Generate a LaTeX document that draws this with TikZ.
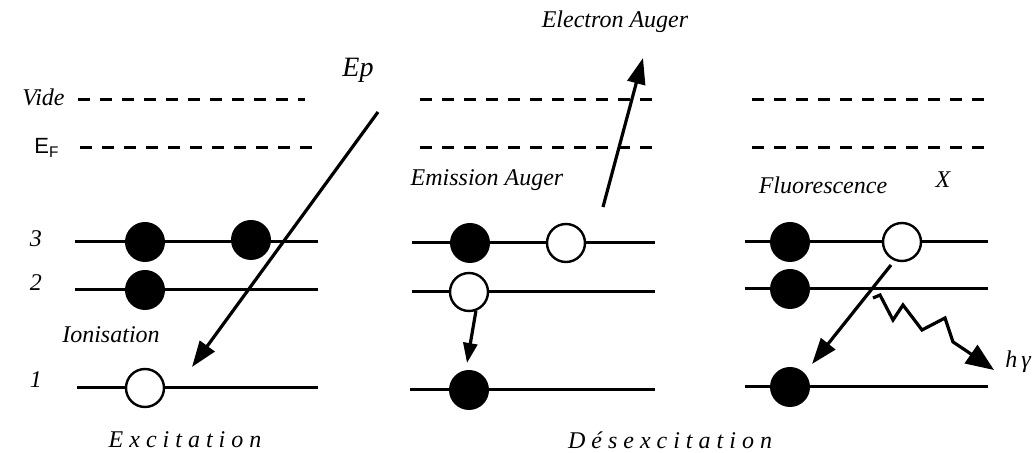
\documentclass[tikz,border=0pt]{standalone}
\usepackage{fontspec}
\setmainfont{Liberation Serif}
\newfontfamily\spacedfont[LetterSpace=25]{Liberation Serif}
\newfontfamily\efsans{Liberation Sans}
\usetikzlibrary{arrows.meta}
\tikzset{
  x=0.5pt,y=-0.5pt,
  level/.style={line width=1.5pt},
  vac/.style={line width=1.5pt,dash pattern=on 6pt off 5pt},
  full/.style={circle,fill=black,draw=black,line width=1pt,minimum size=19pt,inner sep=0pt},
  hole/.style={circle,fill=white,draw=black,line width=1.2pt,minimum size=19pt,inner sep=0pt},
  lab/.style={font=\fontsize{12}{14}\selectfont\itshape,inner sep=0pt},
  big/.style={line width=1.6pt,-{Triangle[length=13pt,width=9pt]}},
}
\begin{document}
\begin{tikzpicture}
\useasboundingbox (0,0) rectangle (1035,453);
% labels left
\node[lab,anchor=west] (vide) at (22,97) {Vide};
\node[anchor=west,inner sep=0pt,font=\fontsize{11}{13}\selectfont\efsans] (ef) at (34,148) {E\textsubscript{F}};
\node[lab] (n3) at (36,239) {3};
\node[lab] (n2) at (36,283) {2};
\node[lab] (n1) at (36,380) {1};
% left panel
\draw[vac] (78,100) coordinate (lv1) -- (305,100) coordinate (lv2);
\draw[vac] (80,148) coordinate (lf1) -- (318,148) coordinate (lf2);
\draw[level] (75,242) coordinate (l3a) -- (318,242) coordinate (l3b);
\draw[level] (75,290) coordinate (l2a) -- (318,290) coordinate (l2b);
\draw[level] (77,388) coordinate (l1a) -- (318,388) coordinate (l1b);
\node[full] (a3) at (145,242) {};
\node[full] (b3) at (251,240) {};
\node[full] (a2) at (145,290) {};
\node[hole] (a1) at (145,388) {};
\node[lab,font=\fontsize{14}{16}\selectfont\itshape] (ep) at (358,70) {Ep};
\coordinate (eps) at (378,112);
\coordinate (epe) at (192,367);
\draw[big] (eps) -- (epe);
\node[lab] (ion) at (111,335) {Ionisation};
\node[inner sep=0pt,font=\fontsize{12}{14}\selectfont\spacedfont\itshape] (exc) at (185,440) {Excitation};
% middle panel
\draw[vac] (420,100) coordinate (mv1) -- (653,100) coordinate (mv2);
\draw[vac] (420,148) coordinate (mf1) -- (653,148) coordinate (mf2);
\draw[level] (412,243) coordinate (m3a) -- (655,243) coordinate (m3b);
\draw[level] (412,292) coordinate (m2a) -- (655,292) coordinate (m2b);
\draw[level] (410,390) coordinate (m1a) -- (655,390) coordinate (m1b);
\node[full] (c3) at (470,243) {};
\node[hole] (d3) at (566,243) {};
\node[hole] (c2) at (469,292) {};
\node[full] (c1) at (469,390) {};
\node[lab] (ea) at (615,22) {Electron Auger};
\coordinate (eas) at (603,207);
\coordinate (eae) at (643,58);
\draw[big] (eas) -- (eae);
\node[lab] (emi) at (487,180) {Emission Auger};
\coordinate (dte) at (467,363);
\draw[line width=1.6pt,-{Triangle[length=10pt,width=7pt]}] (c2.-70) -- (dte);
\node[inner sep=0pt,font=\fontsize{12}{14}\selectfont\spacedfont\itshape] (desc) at (670,440) {Désexcitation};
% right panel
\draw[vac] (752,100) coordinate (rv1) -- (985,100) coordinate (rv2);
\draw[vac] (752,148) coordinate (rf1) -- (985,148) coordinate (rf2);
\draw[level] (745,242) coordinate (r3a) -- (988,242) coordinate (r3b);
\draw[level] (745,289) coordinate (r2a) -- (988,289) coordinate (r2b);
\draw[level] (745,387) coordinate (r1a) -- (988,387) coordinate (r1b);
\node[full] (e3) at (790,242) {};
\node[hole] (f3) at (902,242) {};
\node[full] (e2) at (790,289) {};
\node[full] (e1) at (790,387) {};
\node[lab] (flu) at (823,185) {Fluorescence};
\node[lab] (xx) at (943,180) {X};
\coordinate (fs) at (891,265);
\coordinate (fe) at (812,364);
\draw[big] (fs) -- (fe);
\coordinate (ws) at (873,298);
\coordinate (we) at (994,370);
\draw[line width=1.6pt,line join=miter,-{Triangle[length=14pt,width=11pt]}] (ws) -- (880,295) -- (893,320) -- (903,305) -- (922,330) -- (945,318) -- (953,342) -- (968,352) -- (we);
\node[lab,anchor=west] (hg) at (1005,362) {h\,γ};
\end{tikzpicture}
\end{document}
